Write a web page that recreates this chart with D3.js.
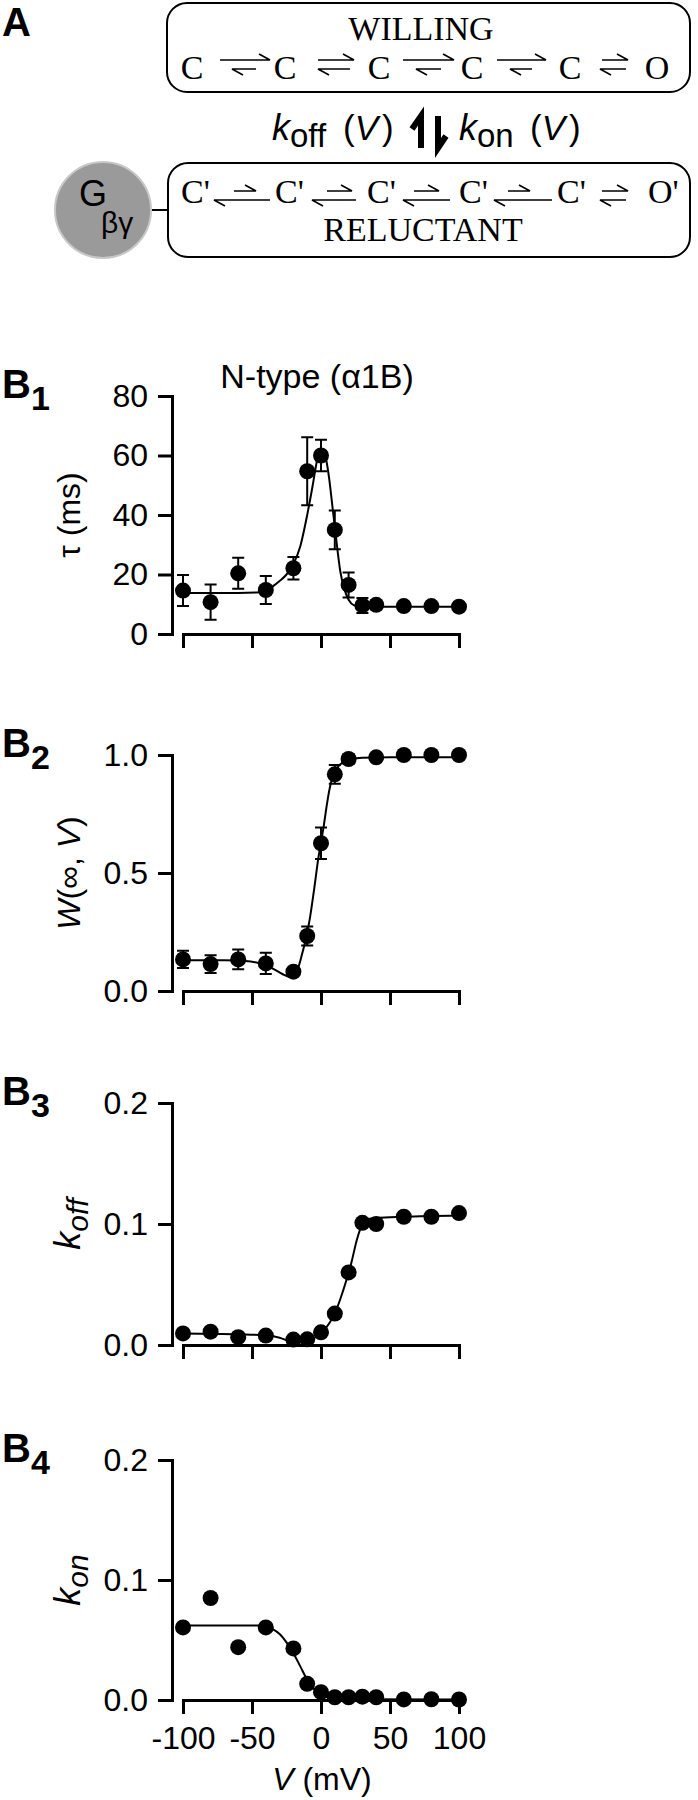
<!DOCTYPE html>
<html><head><meta charset="utf-8">
<script src="https://cdn.jsdelivr.net/npm/d3@7"></script>
<style>body{margin:0;background:#fff}svg{display:block}</style>
</head><body>
<svg id="chart" width="698" height="1800"></svg>
<script>
// ---------- DATA ----------
const willingStates = ["C","C","C","C","C","O"];
const reluctantStates = ["C'","C'","C'","C'","C'","O'"];
const xTicks = [-100,-50,0,50,100];

const tauV    = [-100,-80,-60,-40,-20,-10,0,10,20,30,40,60,80,100];
const tauMean = [14.6,10.7,20.4,14.8,22.1,54.7,60.0,35.0,16.5,9.6,9.8,9.4,9.4,9.2];
const tauErr  = [5.2,5.9,5.2,4.7,3.8,11.4,5.3,6.5,4.2,2.5,1.5,1.0,1.0,1.0];
const tauFitV = [-100,-60,-45,-40,-35,-30,-25,-20,-15,-10,-6,-3,0,2,4,6,8,10,12,14,17,20,24,28,35,100];
const tauFit  = [13.8,13.8,14.0,14.6,16.0,17.8,20.0,23.5,29.5,40,50,58,62,61.5,58,52,44,36,28,21,15,11.5,9.6,9.2,9.2,9.2];
const tauTicks = [0,20,40,60,80];

const wV    = [-100,-80,-60,-40,-20,-10,0,10,20,40,60,80,100];
const wMean = [0.134,0.114,0.134,0.117,0.082,0.233,0.626,0.918,0.983,0.99,1.0,1.0,1.0];
const wErr  = [0.037,0.038,0.042,0.045,0,0.04,0.067,0.04,0.02,0.012,0.01,0.008,0];
const wFitV = [-100,-70,-55,-45,-35,-28,-23,-20,-17,-14,-11,-8,-5,-2,0,2,4,6,8,10,13,17,22,30,50,100];
const wFit  = [0.13,0.13,0.127,0.118,0.095,0.072,0.06,0.062,0.09,0.15,0.22,0.31,0.43,0.56,0.63,0.7,0.78,0.85,0.9,0.93,0.955,0.972,0.982,0.988,0.99,0.99];
const wTicks = [0,0.5,1.0];

const koffV   = [-100,-80,-60,-40,-20,-10,0,10,20,30,40,60,80,100];
const koffVal = [0.0096,0.011,0.0065,0.0078,0.0045,0.0047,0.0105,0.026,0.060,0.101,0.100,0.106,0.106,0.109];
const koffFitV = [-100,-60,-40,-30,-22,-15,-8,-2,2,6,10,14,18,22,26,30,34,40,60,100];
const koffFit  = [0.0095,0.0088,0.008,0.006,0.003,0.0025,0.004,0.008,0.012,0.018,0.026,0.038,0.052,0.068,0.087,0.1,0.104,0.105,0.106,0.107];
const kTicks = [0,0.1,0.2];

const konV   = [-100,-80,-60,-40,-20,-10,0,10,20,30,40,60,80,100];
const konVal = [0.0605,0.085,0.044,0.0605,0.043,0.0135,0.0065,0.0023,0.0023,0.0028,0.0023,0.0005,0.0006,0.0004];
const konFitV = [-100,-45,-40,-35,-30,-25,-20,-15,-10,-5,0,5,10,20,100];
const konFit  = [0.062,0.062,0.0615,0.059,0.055,0.048,0.039,0.028,0.017,0.009,0.004,0.002,0.001,0.0006,0.0005];

// ---------- DRAW ----------
const svg = d3.select("#chart");
const SANS = "'Liberation Sans', Arial, Helvetica, sans-serif";
const SERIF = "'Liberation Serif', 'Times New Roman', serif";

// ----- Panel A: scheme -----
svg.append("text").attr("x",2).attr("y",36).attr("font-family",SANS).attr("font-weight","bold")
  .attr("font-size",40).text("A");

const boxW = {x:167,y:3,w:523,h:89}, boxR = {x:168,y:163,w:522,h:94};
[boxW, boxR].forEach(b => svg.append("rect").attr("x",b.x).attr("y",b.y).attr("width",b.w).attr("height",b.h)
  .attr("rx",20).attr("fill","none").attr("stroke","#000").attr("stroke-width",2));

svg.append("text").attr("x",421).attr("y",40).attr("text-anchor","middle").attr("font-family",SERIF)
  .attr("font-size",34).text("WILLING");
svg.append("text").attr("x",423).attr("y",241).attr("text-anchor","middle").attr("font-family",SERIF)
  .attr("font-size",34).text("RELUCTANT");

const wStateX = [192,285,379,472,570,657];
const rStateX = [192,286,378,470,568,659];
svg.selectAll(".ws").data(willingStates).join("text").attr("x",(d,i)=>wStateX[i]).attr("y",79)
  .attr("text-anchor","middle").attr("font-family",SERIF).attr("font-size",34).text(d=>d);
svg.selectAll(".rs").data(reluctantStates).join("text").attr("x",(d,i)=>rStateX[i]-11).attr("y",203)
  .attr("font-family",SERIF).attr("font-size",34).text(d=>d);

const wArrows = [{u:[220,270],l:[232,256]},{u:[318,354],l:[318,350]},{u:[403,454],l:[416,441]},{u:[497,546],l:[510,532]},{u:[602,628],l:[600,626]}];
const rArrows = [{u:[234,256],l:[214,270]},{u:[327,352],l:[312,356]},{u:[414,439],l:[403,450]},{u:[508,530],l:[494,552]},{u:[602,628],l:[600,626]}];
function harpoons(arr, yu, yl){
  arr.forEach(a=>{
    svg.append("path").attr("d",`M${a.u[0]},${yu}H${a.u[1]}L${a.u[1]-11},${yu-6}`)
      .attr("fill","none").attr("stroke","#000").attr("stroke-width",1.6);
    svg.append("path").attr("d",`M${a.l[1]},${yl}H${a.l[0]}L${a.l[0]+11},${yl+6}`)
      .attr("fill","none").attr("stroke","#000").attr("stroke-width",1.6);
  });
}
harpoons(wArrows,60,69);
harpoons(rArrows,191,200);

// middle k_off / k_on
function kLabel(x, sub){
  const t = svg.append("text").attr("x",x).attr("y",140).attr("font-family",SANS).attr("font-size",36);
  t.append("tspan").attr("font-style","italic").text("k");
  t.append("tspan").attr("font-size",33).attr("dy",7).text(sub);
}
function vLabel(x){
  const t = svg.append("text").attr("x",x).attr("y",140).attr("font-family",SANS).attr("font-size",35);
  t.append("tspan").text("(");
  t.append("tspan").attr("font-style","italic").text("V");
  t.append("tspan").attr("dx",4).text(")");
}
kLabel(272,"off"); vLabel(343);
kLabel(459,"on"); vLabel(530);
svg.append("path").attr("d","M421,148V116L412,129").attr("fill","none").attr("stroke","#000").attr("stroke-width",6);
svg.append("path").attr("d","M438,116V148L446,136").attr("fill","none").attr("stroke","#000").attr("stroke-width",6);

// G beta gamma
svg.append("line").attr("x1",150).attr("x2",168).attr("y1",210).attr("y2",210).attr("stroke","#000").attr("stroke-width",2);
svg.append("circle").attr("cx",103).attr("cy",210).attr("r",48).attr("fill","#9a9a9a").attr("stroke","#c8c8c8").attr("stroke-width",2);
svg.append("text").attr("x",79).attr("y",206).attr("font-family",SANS).attr("font-size",36).text("G");
svg.append("text").attr("x",101).attr("y",233).attr("font-family",SANS).attr("font-size",30).text("βγ");

// ----- Panels B -----
const x = d3.scaleLinear().domain([-100,100]).range([183,459]);
const fmt1 = d3.format(".1f");

const panels = [
  {sub:"1", yTop:396, y0:634, domain:[0,80], ticks:tauTicks, fmt:d3.format("d"),
   v:tauV, m:tauMean, e:tauErr, fv:tauFitV, f:tauFit, title:"tau"},
  {sub:"2", yTop:755, y0:991, domain:[0,1], ticks:wTicks, fmt:fmt1,
   v:wV, m:wMean, e:wErr, fv:wFitV, f:wFit, title:"W"},
  {sub:"3", yTop:1103, y0:1345, domain:[0,0.2], ticks:kTicks, fmt:fmt1,
   v:koffV, m:koffVal, e:null, fv:koffFitV, f:koffFit, title:"koff"},
  {sub:"4", yTop:1460, y0:1700, domain:[0,0.2], ticks:kTicks, fmt:fmt1,
   v:konV, m:konVal, e:null, fv:konFitV, f:konFit, title:"kon", xlabels:true}
];

function styleAxis(g){
  g.attr("font-family",SANS).attr("font-size",32);
  g.selectAll("path.domain").attr("stroke-width",3).attr("stroke-linecap","square");
  g.selectAll(".tick line").attr("stroke-width",3);
  g.selectAll(".tick text").attr("fill","#000");
}

panels.forEach(p=>{
  const y = d3.scaleLinear().domain(p.domain).range([p.y0,p.yTop]);
  const gy = svg.append("g").attr("transform","translate(172,0)")
    .call(d3.axisLeft(y).tickValues(p.ticks).tickFormat(p.fmt).tickSize(14).tickSizeOuter(0).tickPadding(10));
  styleAxis(gy);
  const gx = svg.append("g").attr("transform",`translate(0,${p.y0})`)
    .call(d3.axisBottom(x).tickValues(xTicks).tickSize(14).tickSizeOuter(0).tickPadding(12)
      .tickFormat(p.xlabels ? (d=>String(d)) : ""));
  styleAxis(gx);

  // panel label
  const lb = svg.append("text").attr("x",2).attr("y",p.yTop+2).attr("font-family",SANS)
    .attr("font-weight","bold").attr("font-size",40);
  lb.append("tspan").text("B");
  lb.append("tspan").attr("font-size",34).attr("dy",12).text(p.sub);

  // fit curve
  const line = d3.line().x((d,i)=>x(p.fv[i])).y((d,i)=>y(p.f[i])).curve(d3.curveMonotoneX);
  svg.append("path").datum(p.f).attr("d",line).attr("fill","none").attr("stroke","#000").attr("stroke-width",2);

  // error bars
  if(p.e){
    p.v.forEach((v,i)=>{
      if(!p.e[i]) return;
      const cx = x(v), y1 = y(p.m[i]-p.e[i]), y2 = y(p.m[i]+p.e[i]);
      svg.append("path").attr("d",`M${cx},${y1}V${y2}M${cx-6},${y1}H${cx+6}M${cx-6},${y2}H${cx+6}`)
        .attr("fill","none").attr("stroke","#000").attr("stroke-width",2);
    });
  }
  // dots
  svg.append("g").selectAll("circle").data(p.v).join("circle")
    .attr("cx",d=>x(d)).attr("cy",(d,i)=>y(p.m[i])).attr("r",8).attr("fill","#000");

  // y title
  const cy = (p.yTop+p.y0)/2;
  const t = svg.append("text").attr("transform",`translate(80,${cy}) rotate(-90)`)
    .attr("text-anchor","middle").attr("font-family",SANS).attr("font-size",32);
  if(p.title==="tau"){ t.text("τ (ms)"); }
  else if(p.title==="W"){
    t.append("tspan").attr("font-style","italic").text("W");
    t.append("tspan").text("(∞, ");
    t.append("tspan").attr("font-style","italic").text("V");
    t.append("tspan").text(")");
  } else {
    t.append("tspan").attr("font-style","italic").attr("font-size",36).text("k");
    t.append("tspan").attr("font-style","italic").attr("font-size",30).attr("dy",8).text(p.title.slice(1));
  }
});

// B1 title and x-axis title
svg.append("text").attr("x",317).attr("y",388).attr("text-anchor","middle").attr("font-family",SANS)
  .attr("font-size",34).text("N-type (α1B)");
const xt = svg.append("text").attr("x",322).attr("y",1790).attr("text-anchor","middle")
  .attr("font-family",SANS).attr("font-size",32);
xt.append("tspan").attr("font-style","italic").text("V");
xt.append("tspan").text(" (mV)");
</script>
</body></html>
